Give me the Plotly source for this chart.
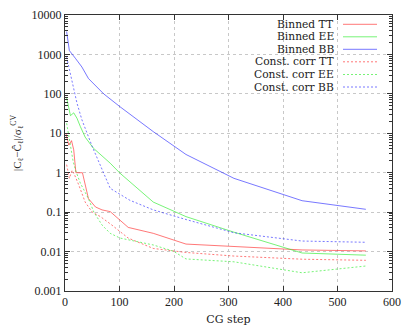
import plotly.graph_objects as go

# ---- data ----
tt_bin_x = [2, 7, 12, 16, 20, 32, 43, 56, 68, 83, 116, 162, 222, 310, 435, 552]
tt_bin_y = [9.6, 5.0, 6.5, 3.8, 1.0, 1.0, 0.22, 0.135, 0.114, 0.103, 0.041, 0.029, 0.0155, 0.0133, 0.011, 0.0104]

ee_bin_x = [3, 7, 10, 16, 22, 28, 37, 52, 83, 101, 162, 222, 310, 435, 552]
ee_bin_y = [80, 47, 28, 33, 24, 15, 8, 4.2, 1.74, 0.97, 0.18, 0.077, 0.031, 0.0092, 0.0081]

bb_bin_x = [3, 8, 19, 31, 43, 71, 101, 162, 222, 310, 435, 552]
bb_bin_y = [3800, 1250, 800, 480, 245, 100, 47, 11, 2.9, 0.72, 0.195, 0.118]

tt_cc_x = [3, 8, 13, 18, 25, 37, 50, 65, 86, 101, 116, 162, 199, 222, 310, 435, 552]
tt_cc_y = [1.6, 0.72, 1.15, 0.85, 0.5, 0.18, 0.1, 0.077, 0.047, 0.032, 0.022, 0.012, 0.0105, 0.0095, 0.0077, 0.0064, 0.006]

ee_cc_x = [3, 10, 15, 20, 28, 43, 53, 68, 83, 101, 119, 162, 199, 222, 310, 435, 552]
ee_cc_y = [18, 5, 1.9, 1.1, 0.55, 0.22, 0.1, 0.047, 0.029, 0.022, 0.0195, 0.0147, 0.0102, 0.0065, 0.0055, 0.0029, 0.0043]

bb_cc_x = [3, 7, 13, 22, 31, 40, 50, 83, 119, 162, 199, 222, 310, 435, 552]
bb_cc_y = [850, 490, 186, 58, 22, 10, 4.6, 0.4, 0.2, 0.114, 0.08, 0.065, 0.03, 0.0185, 0.0172]

legend_labels = ["Binned TT", "Binned EE", "Binned BB",
                 "Const. corr TT", "Const. corr EE", "Const. corr BB"]

x_tickvals = [0, 100, 200, 300, 400, 500, 600]

# ---- styles ----
RED = "rgba(255,30,30,0.6)"
GREEN = "rgba(30,235,30,0.6)"
BLUE = "rgba(30,30,255,0.6)"
DASH = "2px,2px"
FONT = "Liberation Serif"
LFONT = "DejaVu Serif"

series = [
    (tt_bin_x, tt_bin_y, RED, "solid"),
    (ee_bin_x, ee_bin_y, GREEN, "solid"),
    (bb_bin_x, bb_bin_y, BLUE, "solid"),
    (tt_cc_x, tt_cc_y, RED, DASH),
    (ee_cc_x, ee_cc_y, GREEN, DASH),
    (bb_cc_x, bb_cc_y, BLUE, DASH),
]

fig = go.Figure()
for (x, y, c, d), name in zip(series, legend_labels):
    fig.add_trace(go.Scatter(x=x, y=y, mode="lines", name=name,
                             line=dict(color=c, width=1, dash=d),
                             showlegend=False))

# manual legend (text right-aligned, sample line to the right)
PL, PR, PT, PB = 65, 392, 15, 291
PW, PH = PR - PL, PB - PT
row_y = [24.3, 36.8, 49.3, 61.8, 74.5, 87.0]
for (x, y, c, d), name, ry in zip(series, legend_labels, row_y):
    yp = 1 - (ry - PT) / PH
    fig.add_annotation(xref="paper", yref="paper", x=(336 - PL) / PW, y=yp,
                       xanchor="right", yanchor="middle", text=name,
                       showarrow=False, font=dict(family=LFONT, size=10.7, color="#222"))
    fig.add_shape(type="line", xref="paper", yref="paper",
                  x0=(343 - PL) / PW, x1=(377 - PL) / PW, y0=yp, y1=yp,
                  line=dict(color=c, width=1, dash=d))

axis_common = dict(showline=True, linecolor="#333", linewidth=1, mirror="allticks",
                   ticks="inside", tickcolor="#333", ticklen=5, automargin=False,
                   showgrid=True, gridcolor="#c8c8c8", griddash="dot", gridwidth=1,
                   zeroline=False, tickfont=dict(family=FONT, size=12, color="#222"))

fig.update_xaxes(range=[0, 600], tickvals=x_tickvals,
                 title=dict(text="CG step", font=dict(family=LFONT, size=11, color="#222"), standoff=6),
                 **axis_common)
fig.update_yaxes(type="log", range=[-3, 4], dtick=1, tickformat="~g",
                 minor=dict(ticks="inside", ticklen=3, tickcolor="#333", dtick="D1", showgrid=False),
                 **axis_common)

fig.add_annotation(xref="paper", yref="paper", x=(17 - PL) / PW, y=1 - (143 - PT) / PH,
                   text="|C<sub>ℓ</sub>−Ĉ<sub>ℓ</sub>|/σ<sub>ℓ</sub><sup>CV</sup>",
                   textangle=-90, showarrow=False, xanchor="center", yanchor="middle",
                   font=dict(family=FONT, size=11, color="#222"))

fig.update_layout(width=415, height=332, margin=dict(l=PL, r=415 - PR, t=PT, b=332 - PB),
                  plot_bgcolor="white", paper_bgcolor="white", showlegend=False)

fig.write_html("out.html", config={"displayModeBar": False},
               post_script="document.body.style.margin='0';document.body.style.overflow='hidden';")
